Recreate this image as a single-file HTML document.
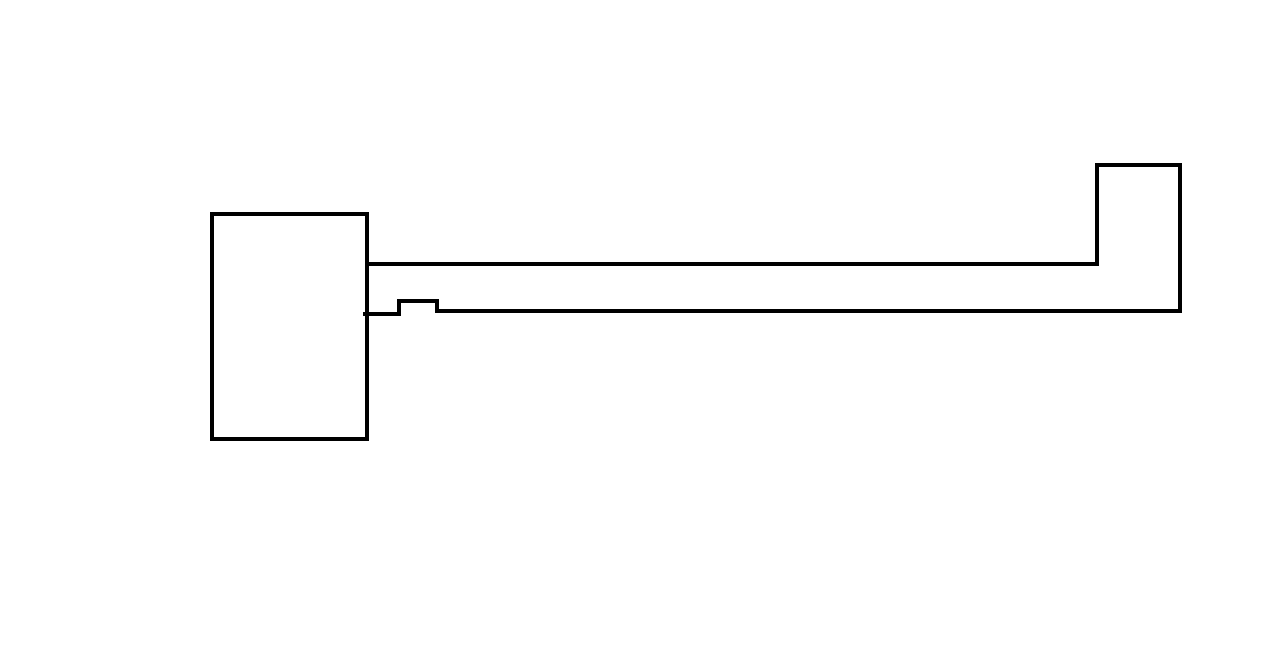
<!DOCTYPE html>
<html><head><style>html,body{margin:0;padding:0;background:#fff;}svg{display:block}</style></head>
<body>
<svg width="1268" height="648" viewBox="0 0 1268 648">
<g fill="none" stroke="#000" stroke-width="4" stroke-linejoin="miter" stroke-linecap="square">
<rect x="212" y="214" width="155" height="225"/>
<polyline points="367,264 1097,264 1097,165 1180,165 1180,311 437,311 437,301 399,301 399,314 365,314"/>
</g>
</svg>
</body></html>
